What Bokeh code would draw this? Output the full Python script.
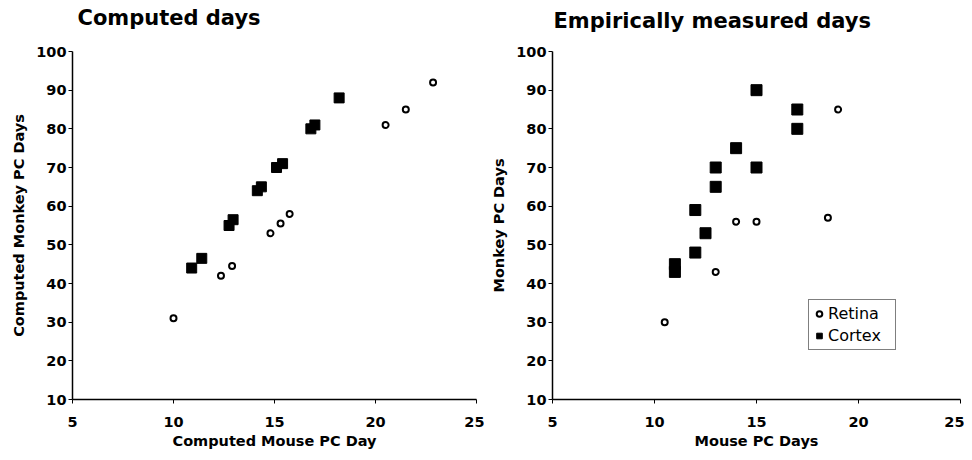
from bokeh.plotting import figure
from bokeh.layouts import row
from bokeh.models import Range1d, FixedTicker, Legend, LegendItem, Title
from bokeh.embed import file_html
from bokeh.resources import INLINE

# ---- data: Computed days ----
comp_retina_x = [10.0, 12.35, 12.9, 14.8, 15.3, 15.75, 20.5, 21.5, 22.85]
comp_retina_y = [31, 42, 44.5, 53, 55.5, 58, 81, 85, 92]
comp_cortex_x = [10.9, 11.4, 12.75, 12.95, 14.15, 14.35, 15.1, 15.4, 16.8, 17.0, 18.2]
comp_cortex_y = [44, 46.5, 55, 56.5, 64, 65, 70, 71, 80, 81, 88]

# ---- data: Empirically measured days ----
emp_retina_x = [10.5, 13, 14, 15, 18.5, 19]
emp_retina_y = [30, 43, 56, 56, 57, 85]
emp_cortex_x = [11, 11, 12, 12, 12.5, 13, 13, 14, 15, 15, 17, 17]
emp_cortex_y = [43, 45, 48, 59, 53, 65, 70, 75, 70, 90, 80, 85]

x_ticks = [5, 10, 15, 20, 25]
y_ticks = [10, 20, 30, 40, 50, 60, 70, 80, 90, 100]

titles = ["Computed days", "Empirically measured days"]
x_labels = ["Computed Mouse PC Day", "Mouse PC Days"]
y_labels = ["Computed Monkey PC Days", "Monkey PC Days"]
legend_labels = ["Retina", "Cortex"]

FONT = "DejaVu Sans"
HEIGHT = 452


def make_fig(title, xlab, ylab, width, bl, br, bb, tx, tstand, spacer):
    p = figure(width=width, height=HEIGHT, output_backend="svg", toolbar_location=None,
               x_range=Range1d(5, 25), y_range=Range1d(10, 100),
               min_border_left=bl, min_border_right=br, min_border_top=0,
               min_border_bottom=bb)
    p.title.text = title
    p.title.text_font = FONT
    p.title.text_font_size = "21px"
    p.title.text_font_style = "bold"
    p.title.text_color = "black"
    p.title.align = "left"
    p.title.offset = tx
    p.title.standoff = tstand
    # empty spacer between the title and the plot frame
    p.add_layout(Title(text=" ", text_font_size="%dpx" % spacer, standoff=0), "above")
    p.outline_line_color = None
    p.grid.visible = False
    p.background_fill_color = "white"
    p.border_fill_color = "white"
    for ax, lab in ((p.xaxis[0], xlab), (p.yaxis[0], ylab)):
        ax.axis_label = lab
        ax.axis_label_text_font = FONT
        ax.axis_label_text_font_size = "14.5px"
        ax.axis_label_text_font_style = "bold"
        ax.axis_label_text_color = "black"
        ax.major_label_text_font = FONT
        ax.major_label_text_font_size = "14.5px"
        ax.major_label_text_font_style = "bold"
        ax.major_label_text_color = "black"
        ax.axis_line_color = "black"
        ax.axis_line_width = 1.5
        ax.major_tick_line_color = "black"
        ax.major_tick_in = 0
        ax.major_tick_out = 4
        ax.minor_tick_line_color = None
    p.xaxis[0].ticker = FixedTicker(ticks=x_ticks)
    p.yaxis[0].ticker = FixedTicker(ticks=y_ticks)
    p.xaxis[0].major_label_standoff = 13
    p.xaxis[0].axis_label_standoff = 3
    p.yaxis[0].major_label_standoff = 2
    p.yaxis[0].axis_label_standoff = 6
    return p


p1 = make_fig(titles[0], x_labels[0], y_labels[0], 484, 72, 8, 49, 5, 7, 14)
p1.scatter(comp_cortex_x, comp_cortex_y, marker="square", size=10,
           fill_color="black", line_color="black")
p1.scatter(comp_retina_x, comp_retina_y, marker="circle", size=6,
           fill_color="white", line_color="black", line_width=2)

p2 = make_fig(titles[1], x_labels[1], y_labels[1], 480, 68, 4, 53, 1, 5, 12)
r_c = p2.scatter(emp_cortex_x, emp_cortex_y, marker="square", size=11,
                 fill_color="black", line_color="black")
r_r = p2.scatter(emp_retina_x, emp_retina_y, marker="circle", size=6,
                 fill_color="white", line_color="black", line_width=2)

legend = Legend(items=[LegendItem(label=legend_labels[0], renderers=[r_r]),
                       LegendItem(label=legend_labels[1], renderers=[r_c])],
                location=(256, 49))
legend.label_text_font = FONT
legend.label_text_font_size = "16px"
legend.label_text_color = "black"
legend.border_line_color = "black"
legend.border_line_width = 1
legend.padding = 3
legend.spacing = 1
legend.margin = 0
legend.glyph_width = 14
legend.glyph_height = 21
legend.label_standoff = 2
legend.label_height = 21
legend.label_width = 64
p2.add_layout(legend)

layout = row(p1, p2)
open("out.html", "w").write(file_html(layout, INLINE))
